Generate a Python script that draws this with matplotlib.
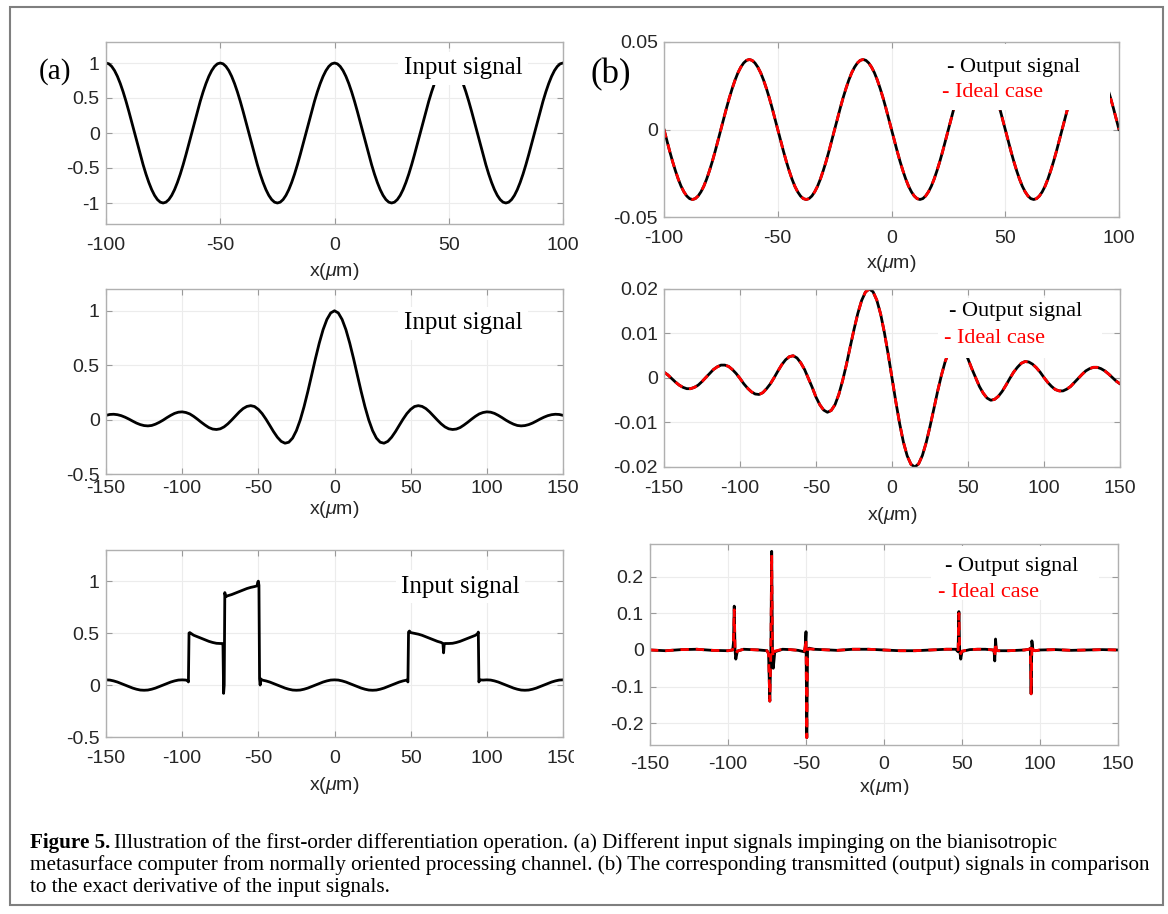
import numpy as np
import matplotlib.pyplot as plt
from matplotlib.patches import Rectangle
from matplotlib.transforms import Bbox

plt.rcParams['font.family'] = 'Liberation Sans'
plt.rcParams['mathtext.fontset'] = 'custom'
plt.rcParams['mathtext.rm'] = 'Liberation Sans'
plt.rcParams['mathtext.it'] = 'Liberation Sans:italic'

W, H = 1168, 914

# ---------------- data ----------------
# top row: one period of the input cosine and of its derivative, sampled every 1.25 um
x_a1 = np.arange(-100, 100.01, 1.25)
period_a1 = [1, .988, .951, .891, .809, .707, .588, .454, .309, .156,
             0, -.156, -.309, -.454, -.588, -.707, -.809, -.891, -.951, -.988,
             -1, -.988, -.951, -.891, -.809, -.707, -.588, -.454, -.309, -.156,
             0, .156, .309, .454, .588, .707, .809, .891, .951, .988]
in_a1 = period_a1 * 4 + [1]

period_b1 = [0, -.0063, -.0124, -.0182, -.0235, -.0283, -.0324, -.0356, -.038, -.0395,
             -.04, -.0395, -.038, -.0356, -.0324, -.0283, -.0235, -.0182, -.0124, -.0063,
             0, .0063, .0124, .0182, .0235, .0283, .0324, .0356, .038, .0395,
             .04, .0395, .038, .0356, .0324, .0283, .0235, .0182, .0124, .0063]
out_b1 = period_b1 * 4 + [0]
ideal_b1 = list(out_b1)

x_a2 = np.arange(-150, 150.1, 2.5)
in_a2 = [0.039, 0.047, 0.049, 0.045, 0.036, 0.022, 0.005, -0.014, -0.032, -0.046,
         -0.055, -0.058, -0.054, -0.042, -0.025, -0.005, 0.018, 0.039, 0.057, 0.068,
         0.071, 0.065, 0.052, 0.030, 0.004, -0.024, -0.050, -0.073, -0.087, -0.091,
         -0.085, -0.067, -0.039, -0.004, 0.033, 0.070, 0.101, 0.121, 0.128, 0.120,
         0.094, 0.055, 0.004, -0.053, -0.111, -0.162, -0.200, -0.217, -0.208, -0.170,
         -0.101, -0.004, 0.118, 0.258, 0.409, 0.561, 0.703, 0.826, 0.920, 0.980,
         1.000,
         0.980, 0.920, 0.826, 0.703, 0.561, 0.409, 0.258, 0.118, -0.004, -0.101,
         -0.170, -0.208, -0.217, -0.200, -0.162, -0.111, -0.053, 0.004, 0.055, 0.094,
         0.120, 0.128, 0.121, 0.101, 0.070, 0.033, -0.004, -0.039, -0.067, -0.085,
         -0.091, -0.087, -0.073, -0.050, -0.024, 0.004, 0.030, 0.052, 0.065, 0.071,
         0.068, 0.057, 0.039, 0.018, -0.005, -0.025, -0.042, -0.054, -0.058, -0.055,
         -0.046, -0.032, -0.014, 0.005, 0.022, 0.036, 0.045, 0.049, 0.047, 0.039]

out_b2 = [0.0013, 0.0007, -0.0001, -0.0009, -0.0016, -0.0021, -0.0024, -0.0024, -0.0021, -0.0016,
          -0.0008, 0.0001, 0.0010, 0.0019, 0.0025, 0.0029, 0.0029, 0.0026, 0.0019, 0.0010,
          -0.0001, -0.0013, -0.0023, -0.0031, -0.0036, -0.0037, -0.0033, -0.0024, -0.0013, 0.0001,
          0.0016, 0.0030, 0.0041, 0.0048, 0.0050, 0.0045, 0.0034, 0.0019, -0.0001, -0.0021,
          -0.0043, -0.0060, -0.0072, -0.0077, -0.0073, -0.0060, -0.0037, -0.0006, 0.0030, 0.0070,
          0.0109, 0.0145, 0.0174, 0.0193, 0.0200, 0.0194, 0.0175, 0.0144, 0.0102, 0.0053,
          0.0,
          -0.0053, -0.0102, -0.0144, -0.0175, -0.0194, -0.0200, -0.0193, -0.0174, -0.0145, -0.0109,
          -0.0070, -0.0030, 0.0006, 0.0037, 0.0060, 0.0073, 0.0077, 0.0072, 0.0060, 0.0043,
          0.0021, 0.0001, -0.0019, -0.0034, -0.0045, -0.0050, -0.0048, -0.0041, -0.0030, -0.0016,
          -0.0001, 0.0013, 0.0024, 0.0033, 0.0037, 0.0036, 0.0031, 0.0023, 0.0013, 0.0001,
          -0.0010, -0.0019, -0.0026, -0.0029, -0.0029, -0.0025, -0.0019, -0.0010, -0.0001, 0.0008,
          0.0016, 0.0021, 0.0024, 0.0024, 0.0021, 0.0016, 0.0009, 0.0001, -0.0007, -0.0013]
ideal_b2 = list(out_b2)

x_a3 = [-150, -147.5, -145, -142.5, -140, -137.5, -135, -132.5, -130, -127.5, -125, -122.5, -120,
        -117.5, -115, -112.5, -110, -107.5, -105, -102.5, -100, -97.5, -96.3, -95.9, -95.5, -95,
        -92.5, -90, -87.5, -85, -82.5, -80, -77.5, -75, -73.6, -73.2, -72.8, -72.4, -72.0, -71.5,
        -70, -67.5, -65, -62.5, -60, -57.5, -55, -52.5, -50.8, -50.4, -50, -49.6, -49.2, -48.8,
        -48.4, -47.5, -45, -42.5, -40, -37.5, -35, -32.5, -30, -27.5, -25, -22.5, -20, -17.5, -15,
        -12.5, -10, -7.5, -5, -2.5, 0, 2.5, 5, 7.5, 10, 12.5, 15, 17.5, 20, 22.5, 25, 27.5, 30,
        32.5, 35, 37.5, 40, 42.5, 45, 47.5, 48.2, 48.6, 49.2, 50, 52.5, 55, 57.5, 60, 62.5, 65,
        67.5, 70, 71.2, 71.6, 72.0, 72.5, 75, 77.5, 80, 82.5, 85, 87.5, 90, 92.5, 94, 94.4, 94.8,
        95.2, 97.5, 100, 102.5, 105, 107.5, 110, 112.5, 115, 117.5, 120, 122.5, 125, 127.5, 130,
        132.5, 135, 137.5, 140, 142.5, 145, 147.5, 150]
in_a3 = [0.050, 0.048, 0.040, 0.029, 0.015, 0.000, -0.015, -0.029, -0.040, -0.048, -0.050, -0.048, -0.040,
         -0.029, -0.015, 0.000, 0.015, 0.029, 0.040, 0.048, 0.050, 0.048, 0.040, 0.030, 0.500, 0.505,
         0.480, 0.465, 0.450, 0.435, 0.421, 0.410, 0.402, 0.400, 0.400, 0.380, -0.080, 0.000, 0.890, 0.850,
         0.860, 0.871, 0.885, 0.900, 0.915, 0.929, 0.940, 0.948, 0.955, 0.990, 1.000, 0.960, 0.060, 0.000,
         0.060, 0.048, 0.040, 0.029, 0.015, 0.000, -0.015, -0.029, -0.040, -0.048, -0.050, -0.048, -0.040, -0.029, -0.015,
         0.000, 0.015, 0.029, 0.040, 0.048, 0.050, 0.048, 0.040, 0.029, 0.015, 0.000, -0.015, -0.029, -0.040, -0.048, -0.050, -0.048, -0.040,
         -0.029, -0.015, 0.000, 0.015, 0.029, 0.040, 0.048, 0.030, 0.510, 0.520, 0.505, 0.498, 0.490, 0.479, 0.465, 0.450, 0.435,
         0.421, 0.410, 0.400, 0.310, 0.390, 0.400, 0.400, 0.402, 0.410, 0.421, 0.435, 0.450, 0.465, 0.479, 0.495, 0.510, 0.030,
         0.050, 0.048, 0.050, 0.048, 0.040, 0.029, 0.015, 0.000, -0.015, -0.029, -0.040, -0.048, -0.050, -0.048, -0.040,
         -0.029, -0.015, 0.000, 0.015, 0.029, 0.040, 0.048, 0.050]

x_b3 = [-150, -140, -130, -120, -110, -100, -97, -96.5, -96, -95.5, -95, -94, -90, -80, -75, -74,
        -73.2, -72.5, -72, -71.5, -71, -70, -65, -60, -55, -51, -50.5, -50, -49.5, -49, -48, -45,
        -40, -30, -20, -10, 0, 10, 20, 30, 40, 46, 47.5, 48, 48.5, 49.2, 50, 55, 60, 65, 70, 70.6,
        71, 71.5, 72, 73, 80, 90, 93, 93.8, 94.3, 94.8, 95.5, 97, 100, 110, 120, 130, 140, 150]
out_b3 = [0.0, -0.002, 0.001, 0.002, -0.001, -0.002, 0.0, 0.02, 0.12, 0.0, -0.025, -0.003, 0.002, 0.0, -0.002, -0.01,
          -0.14, 0.0, 0.27, 0.0, -0.05, -0.005, 0.002, 0.001, -0.001, -0.005, 0.01, 0.05, -0.24, 0.0, 0.005, 0.002,
          0.001, -0.001, 0.002, 0.002, 0.0, -0.002, -0.002, 0.0, 0.002, 0.002, -0.005, 0.105, 0.0, -0.025, -0.004, 0.001, 0.002, 0.002, 0.0, -0.005,
          -0.03, 0.03, 0.0, -0.002, -0.002, 0.0, 0.002, 0.005, -0.12, 0.025, 0.0, -0.002, 0.0, 0.001, -0.001, 0.0, 0.001, 0.0]
ideal_b3 = [0.0, -0.002, 0.001, 0.002, -0.001, -0.002, 0.0, 0.015, 0.11, 0.0, -0.01, -0.003, 0.002, 0.0, -0.002, -0.01,
            -0.14, 0.0, 0.26, 0.0, -0.02, -0.003, 0.002, 0.001, -0.001, -0.003, 0.01, 0.03, -0.24, 0.0, 0.003, 0.002,
            0.001, -0.001, 0.002, 0.002, 0.0, -0.002, -0.002, 0.0, 0.002, 0.002, -0.003, 0.10, 0.0, -0.01, -0.003, 0.001, 0.002, 0.002, 0.0, -0.003,
            -0.02, 0.02, 0.0, -0.002, -0.002, 0.0, 0.002, 0.004, -0.12, 0.015, 0.0, -0.002, 0.0, 0.001, -0.001, 0.0, 0.001, 0.0]

xt_100 = [-100, -50, 0, 50, 100]
xt_150 = [-150, -100, -50, 0, 50, 100, 150]
yt_a1 = [-1, -0.5, 0, 0.5, 1]
yl_a1 = ['-1', '-0.5', '0', '0.5', '1']
yt_a23 = [-0.5, 0, 0.5, 1]
yl_a23 = ['-0.5', '0', '0.5', '1']
yt_b1 = [-0.05, 0, 0.05]
yl_b1 = ['-0.05', '0', '0.05']
yt_b2 = [-0.02, -0.01, 0, 0.01, 0.02]
yl_b2 = ['-0.02', '-0.01', '0', '0.01', '0.02']
yt_b3 = [-0.2, -0.1, 0, 0.1, 0.2]
yl_b3 = ['-0.2', '-0.1', '0', '0.1', '0.2']

fig = plt.figure(figsize=(W / 100, H / 100), dpi=100)


def px_axes(left, top, right, bottom):
    return fig.add_axes([left / W, 1 - bottom / H, (right - left) / W, (bottom - top) / H])


def style(ax, xlim, ylim, xticks, yticks, ylabels, xpad, xlab_off):
    ax.set_xlim(xlim)
    ax.set_ylim(ylim)
    ax.set_xticks(xticks)
    ax.set_xticklabels([str(t) for t in xticks])
    ax.set_yticks(yticks)
    ax.set_yticklabels(ylabels)
    for s in ax.spines.values():
        s.set_color('#b0b0b0')
        s.set_linewidth(1.0)
    ax.tick_params(direction='in', length=4, width=0.8, color='#9a9a9a', top=True, right=True,
                   labelsize=14, labelcolor='#262626')
    ax.tick_params(axis='x', pad=xpad)
    ax.tick_params(axis='y', pad=4.5)
    ax.grid(True, color='#ececec', lw=0.8)
    ax.set_axisbelow(True)
    ax.set_xlabel('x($\\mu$m)', fontsize=14, color='#262626')
    h = ax.get_position().height * H
    ax.xaxis.set_label_coords(0.5, -xlab_off / h)
    ax.xaxis.label.set_va('center')


serif = 'Liberation Serif'
box = dict(facecolor='white', edgecolor='none', pad=4)

# (a) column
a1 = px_axes(106, 42, 563, 224)
a1.plot(x_a1, in_a1, color='black', lw=2, zorder=2)
style(a1, (-100, 100), (-1.3, 1.3), xt_100, yt_a1, yl_a1, 9.4, 48)
a1.text(0.652, 0.857, 'Input signal', transform=a1.transAxes, ha='left', va='center',
        fontsize=18, family=serif, bbox=box, zorder=5)

a2 = px_axes(106, 289, 563, 474)
a2.plot(x_a2, in_a2, color='black', lw=2, zorder=2)
style(a2, (-150, 150), (-0.5, 1.2), xt_150, yt_a23, yl_a23, 4.5, 35)
a2.text(0.651, 0.816, 'Input signal', transform=a2.transAxes, ha='left', va='center',
        fontsize=18, family=serif, bbox=box, zorder=5)

a3 = px_axes(106, 550, 563, 737)
a3.plot(x_a3, in_a3, color='black', lw=2, zorder=2)
style(a3, (-150, 150), (-0.5, 1.3), xt_150, yt_a23, yl_a23, 9.4, 48)
a3.text(0.646, 0.803, 'Input signal', transform=a3.transAxes, ha='left', va='center',
        fontsize=18, family=serif, bbox=box, zorder=5)
last = a3.get_xticklabels()[-1]
last.set_clip_box(Bbox.from_extents(0, 0, 574, H))
last.set_clip_on(True)


# (b) column
def legend_box(ax, rect, y_out, y_ideal, x_out, x_ideal):
    ax.add_patch(Rectangle(rect[:2], rect[2], rect[3], transform=ax.transAxes,
                           facecolor='white', edgecolor='none', zorder=3))
    ax.text(x_out, y_out, '- Output signal', transform=ax.transAxes, ha='left', va='center',
            fontsize=16, family=serif, color='black', zorder=5)
    ax.text(x_ideal, y_ideal, '- Ideal case', transform=ax.transAxes, ha='left', va='center',
            fontsize=16, family=serif, color='red', zorder=5)


dash = (0, (3, 2.5))

b1 = px_axes(664, 42, 1119, 217)
b1.plot(x_a1, out_b1, color='black', lw=2, zorder=2)
b1.plot(x_a1, ideal_b1, color='red', lw=2, ls=dash, zorder=2)
style(b1, (-100, 100), (-0.05, 0.05), xt_100, yt_b1, yl_b1, 9.4, 47)
legend_box(b1, (0.6, 0.61, 0.38, 0.38), 0.855, 0.713, 0.623, 0.612)

b2 = px_axes(664, 289, 1120, 467)
b2.plot(x_a2, out_b2, color='black', lw=2, zorder=2)
b2.plot(x_a2, ideal_b2, color='red', lw=2, ls=dash, zorder=2)
style(b2, (-150, 150), (-0.02, 0.02), xt_150, yt_b2, yl_b2, 9.4, 48)
legend_box(b2, (0.6, 0.612, 0.36, 0.34), 0.872, 0.724, 0.625, 0.614)

b3 = px_axes(650, 544, 1118, 745)
b3.plot(x_b3, out_b3, color='black', lw=2, zorder=2)
b3.plot(x_b3, ideal_b3, color='red', lw=2, ls=dash, zorder=2)
style(b3, (-150, 150), (-0.26, 0.29), xt_150, yt_b3, yl_b3, 8.1, 43)
legend_box(b3, (0.6, 0.72, 0.36, 0.27), 0.888, 0.757, 0.631, 0.615)
b3.xaxis.label.set_clip_box(Bbox.from_extents(0, H - 795, W, H))
b3.xaxis.label.set_clip_on(True)

fig.text(55 / W, 1 - 72 / H, '(a)', ha='center', va='center', fontsize=21, family=serif)
fig.text(611 / W, 1 - 75 / H, '(b)', ha='center', va='center', fontsize=25, family=serif)

# caption
cap_size = 15.2
t = fig.text(30 / W, 1 - 843 / H, 'Figure 5.', ha='left', va='center', fontsize=cap_size,
             family=serif, weight='bold')
bb = t.get_window_extent(renderer=fig.canvas.get_renderer())
fig.text((bb.x1 + 4) / W, 1 - 843 / H,
         'Illustration of the first-order differentiation operation. (a) Different input signals impinging on the bianisotropic',
         ha='left', va='center', fontsize=cap_size, family=serif)
fig.text(30 / W, 1 - 865 / H,
         'metasurface computer from normally oriented processing channel. (b) The corresponding transmitted (output) signals in comparison',
         ha='left', va='center', fontsize=cap_size, family=serif)
fig.text(30 / W, 1 - 887 / H, 'to the exact derivative of the input signals.',
         ha='left', va='center', fontsize=cap_size, family=serif)

fig.add_artist(Rectangle((10 / W, 1 - 905 / H), (1163 - 10) / W, (905 - 7) / H, transform=fig.transFigure,
                         fill=False, edgecolor='#7f7f7f', lw=1.5))

fig.savefig('out.png', dpi=100)
